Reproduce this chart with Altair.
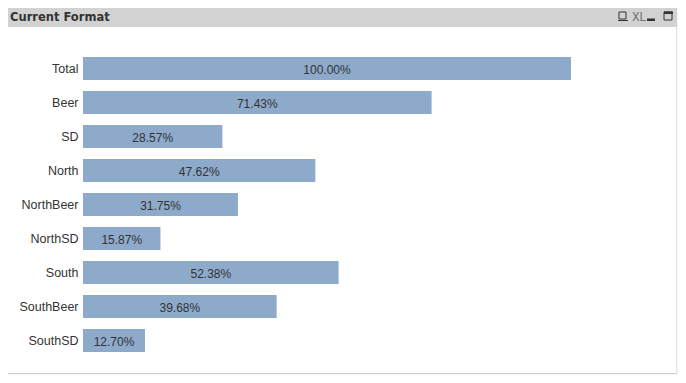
import altair as alt
import pandas as pd

categories = ["Total", "Beer", "SD", "North", "NorthBeer", "NorthSD", "South", "SouthBeer", "SouthSD"]
values = [1.0, 0.7143, 0.2857, 0.4762, 0.3175, 0.1587, 0.5238, 0.3968, 0.1270]
labels = ["100.00%", "71.43%", "28.57%", "47.62%", "31.75%", "15.87%", "52.38%", "39.68%", "12.70%"]

OX, OY = 83, 51.5
FONT = "Liberation Sans"
one = alt.Data(values=[{}])


def box(x0, y0, x1, y1, fill=None, stroke=None, sw=1):
    kw = {}
    if fill:
        kw["fill"] = fill
    else:
        kw["fillOpacity"] = 0
    if stroke:
        kw.update(stroke=stroke, strokeWidth=sw)
    return alt.Chart(one).mark_rect(**kw).encode(
        x=alt.value(x0 - OX), x2=alt.value(x1 - OX), y=alt.value(y0 - OY), y2=alt.value(y1 - OY)
    )


def label(text, x, y, **kw):
    return alt.Chart(one).mark_text(text=text, align="left", baseline="alphabetic", **kw).encode(
        x=alt.value(x - OX), y=alt.value(y - OY)
    )


df = pd.DataFrame({"cat": categories, "val": values, "txt": labels})
y = alt.Y(
    "cat:N",
    sort=categories,
    title=None,
    scale=alt.Scale(paddingInner=11 / 34, paddingOuter=5.5 / 34),
    axis=alt.Axis(domain=False, ticks=False, labelPadding=5, labelFontSize=12.5, labelFont=FONT,
                  labelColor="#333333", zindex=1),
)
x = alt.X("val:Q", title=None, scale=alt.Scale(domain=[0, 1]), axis=None)

bars = alt.Chart(df).mark_bar(color="#8DAACB").encode(x=x, y=y)
texts = (
    alt.Chart(df)
    .transform_calculate(mid="datum.val / 2")
    .mark_text(fontSize=12, font=FONT, color="#333333", baseline="middle", dy=1)
    .encode(x=alt.X("mid:Q", scale=alt.Scale(domain=[0, 1]), axis=None), y=y, text="txt:N")
)

chart = alt.layer(
    box(8, 8, 677, 374, fill="#ffffff"),
    box(8, 373, 677, 374, fill="#d0d0d0"),
    box(676, 27, 677, 374, fill="#e4e4e4"),
    box(8, 8, 677, 27, fill="#d2d2d2"),
    label("Current Format", 10, 21, fontSize=11.5, fontWeight="bold", font="DejaVu Sans", color="#333333"),
    box(619, 12, 626, 19, stroke="#333333", sw=1),
    box(618, 20, 628, 21, fill="#333333"),
    label("XL", 632, 21, fontSize=12, font="Roboto", color="#777777"),
    box(647, 18.5, 655, 21, fill="#333333"),
    box(664, 12, 672, 20, stroke="#333333", sw=1),
    box(664, 11.5, 673, 14, fill="#333333"),
    bars,
    texts,
).properties(
    width=488,
    height=306,
    background="#f6f6f6",
    padding={"left": 75, "top": 43.5, "right": 107, "bottom": 17.5},
    autosize=alt.AutoSizeParams(type="none"),
).configure_view(stroke=None)

chart.save("out.html", embed_options={"renderer": "svg", "actions": False})
